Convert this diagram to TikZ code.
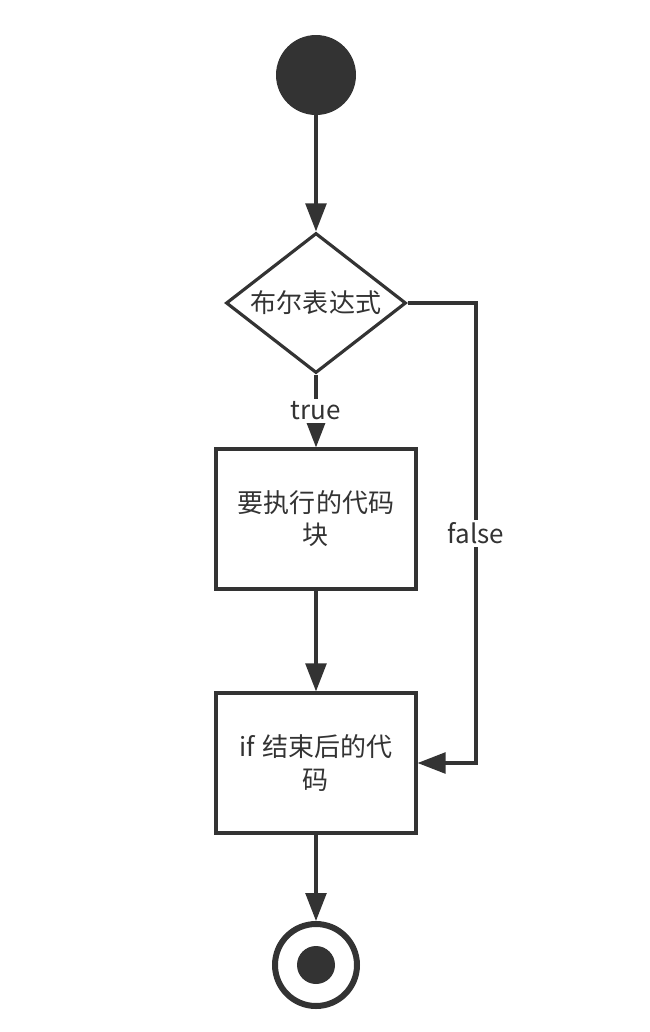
\documentclass[tikz,border=0pt]{standalone}
\usepackage{fontspec}
\setmainfont{Noto Sans CJK SC}
\usetikzlibrary{shapes.geometric, arrows.meta}

\definecolor{ink}{HTML}{333333}

\tikzstyle{element}=[rectangle, draw=ink, line width=3pt*0.75,
                     minimum width=5cm, minimum height=3.5cm, align=center,
                     font=\fontsize{18.5}{22.8}\selectfont, text=ink]
\tikzstyle{decision}=[diamond, draw=ink, line width=3pt*0.75, inner sep=0,
                      minimum width=4.5cm, minimum height=3.5cm, aspect=1.29,
                      font=\fontsize{18.5}{22.8}\selectfont, text=ink]
\tikzstyle{flow}=[-{Triangle[length=0.7cm, width=0.52cm]}, draw=ink, line width=3pt*0.75]
\tikzstyle{label}=[fill=white, inner sep=2pt, text=ink,
                   font=\fontsize{18.5}{22.8}\selectfont]

\begin{document}
\begin{tikzpicture}

\useasboundingbox (0, 0) rectangle (16.25, -25.8);

%%%%%%%%%%%%%%%%%%%%%%%%%%%%%%
% nodes

% start
\node (start) at (7.9, -1.875) [circle, fill=ink, minimum size=2cm, inner sep=0] {};

% condition
\node (cond) at (7.9, -7.575) [decision] {布尔表达式};

% blocks
\node (body) at (7.9, -12.975) [element] {要执行的代码\\块};
\node (after) at (7.9, -19.075) [element] {if\hspace{0.3em}结束后的代\\码};

% end
\node (stop) at (7.9, -24.125) [circle, draw=ink, line width=0.15cm, minimum size=2.05cm, inner sep=0] {};
\node (stop_dot) at (stop.center) [circle, fill=ink, minimum size=0.95cm, inner sep=0] {};

\coordinate (false_a) at (11.9, -7.575);
\coordinate (false_b) at (11.9, -19.075);

%%%%%%%%%%%%%%%%%%%%%%%%%%%%%%
% links

\draw [flow] (start) to (cond);
\draw [flow] (cond) to node[label, midway] {true} (body);
\draw [flow] (body) to (after);
\draw [flow] (cond.east) -- (false_a) -- node[label, midway] {false} (false_b) -- (after.east);
\draw [flow] (after) to (stop);

\end{tikzpicture}
\end{document}
